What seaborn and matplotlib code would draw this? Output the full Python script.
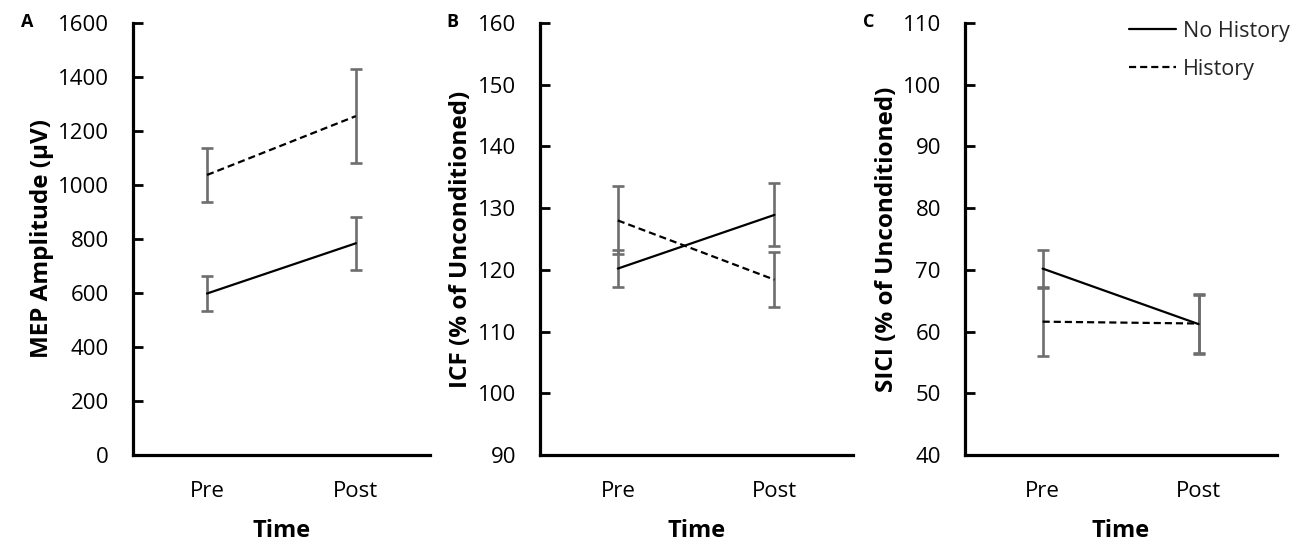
import numpy as np
import pandas as pd
import matplotlib
matplotlib.use("Agg")
import matplotlib.pyplot as plt
import seaborn as sns
from matplotlib.lines import Line2D

sns.set_theme(style="white")
plt.rcParams['font.family'] = ['Open Sans', 'DejaVu Sans']

times = ["Pre", "Post"]
groups = ["No History", "History"]

mep_no = [598, 784]
mep_no_err = [64, 98]
mep_hist = [1037, 1255]
mep_hist_err = [101, 174]

icf_no = [120.2, 128.9]
icf_no_err = [3.0, 5.1]
icf_hist = [128.0, 118.4]
icf_hist_err = [5.5, 4.5]

sici_no = [70.2, 61.2]
sici_no_err = [3.0, 4.9]
sici_hist = [61.6, 61.3]
sici_hist_err = [5.5, 4.7]

panels = [
    ("A", "MEP Amplitude (\u00b5V)", (0, 1600), np.arange(0, 1601, 200), mep_no, mep_no_err, mep_hist, mep_hist_err),
    ("B", "ICF (% of Unconditioned)", (90, 160), np.arange(90, 161, 10), icf_no, icf_no_err, icf_hist, icf_hist_err),
    ("C", "SICI (% of Unconditioned)", (40, 110), np.arange(40, 111, 10), sici_no, sici_no_err, sici_hist, sici_hist_err),
]

fig = plt.figure(figsize=(13, 5.46), dpi=100)
lefts = [0.102, 0.415, 0.742]
rights = [0.331, 0.656, 0.982]
bottom, top = 0.1667, 0.958
letter_x = [0.016, 0.343, 0.664]

for i, (letter, ylabel, ylim, yticks, no, no_err, hist, hist_err) in enumerate(panels):
    ax = fig.add_axes([lefts[i], bottom, rights[i] - lefts[i], top - bottom])
    df = pd.DataFrame({
        "Time": times * 2,
        "Group": [groups[0]] * 2 + [groups[1]] * 2,
        "Value": list(no) + list(hist),
    })
    xpos = np.arange(len(times))
    for vals, errs in ((no, no_err), (hist, hist_err)):
        ax.errorbar(xpos, vals, yerr=errs, fmt='none', ecolor='#6e6e6e',
                    elinewidth=1.9, capsize=4, capthick=1.9, zorder=2)
    sns.lineplot(data=df, x="Time", y="Value", style="Group",
                 dashes={"No History": "", "History": (3.2, 1.8)},
                 color="black", linewidth=1.6, legend=False, ax=ax, zorder=3)
    ax.set_xlim(-0.5, 1.5)
    ax.set_ylim(*ylim)
    ax.set_yticks(yticks)
    ax.set_xticks(xpos)
    ax.set_xticklabels(times)
    for s in ("top", "right"):
        ax.spines[s].set_visible(False)
    for s in ("left", "bottom"):
        ax.spines[s].set_color("black")
        ax.spines[s].set_linewidth(2.3)
    ax.tick_params(axis='y', direction='in', length=7, width=2, colors='black',
                   labelsize=16, pad=17, left=True)
    ax.tick_params(axis='x', length=0, labelsize=16, pad=19, colors='black')
    ax.set_xlabel("Time", fontsize=17, fontweight='bold', labelpad=12, color='black')
    ax.set_ylabel(ylabel, fontsize=17.5, fontweight='bold', labelpad=3, color='black')
    fig.text(letter_x[i], 1 - 22 / 546, letter, fontsize=13, fontweight='bold',
             ha='left', va='center', color='black')
    if letter == "C":
        handles = [Line2D([0], [0], color='black', lw=1.6),
                   Line2D([0], [0], color='black', lw=1.6, dashes=(3.2, 1.8))]
        ax.legend(handles, groups, loc='upper left', bbox_to_anchor=(0.465, 1.05),
                  frameon=False, fontsize=15.5, handlelength=2.2, handletextpad=0.3,
                  labelspacing=0.8)

fig.savefig("out.png", dpi=100)
